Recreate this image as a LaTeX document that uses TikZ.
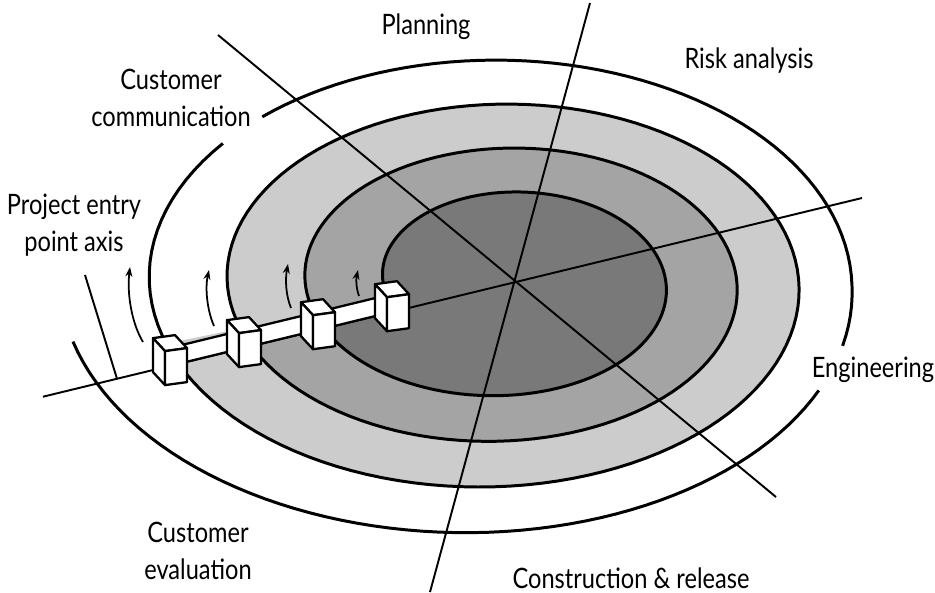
\documentclass[tikz,border=0pt]{standalone}
\usepackage{fontspec}
\setmainfont{Lato}[FakeStretch=0.84]
\usetikzlibrary{arrows.meta}

\definecolor{ringlight}{RGB}{204,204,204}
\definecolor{ringmid}{RGB}{164,164,164}
\definecolor{ringdark}{RGB}{121,121,121}

\tikzset{
  declare function={
    spx(\s)=473.3+16.95*\s-2.25*\s*\s-(401.8-60.95*\s-2.25*\s*\s+12*max(0,1-2*\s))*cos(360*\s);
    spy(\s)=285.6-0.85*\s+(258.4-44.85*\s)*sin(360*\s);
  },
  spiral/.style={line width=1.7pt,line join=round},
  axisline/.style={line width=1.1pt},
  cubeline/.style={line width=1.3pt,fill=white,line join=round},
  flow/.style={line width=1pt,-{Stealth[length=5.5pt,width=4pt]}},
  phase/.style={font=\fontsize{16}{21}\selectfont,align=center,inner sep=0pt}
}

\begin{document}
\begin{tikzpicture}[x=0.02cm,y=-0.02cm]
    \useasboundingbox (0,0) rectangle (935,592);

    %rings
    \fill[ringlight] plot[domain=1.045:2.045,samples=150,variable=\s] ({spx(\s)},{spy(\s)}) -- cycle;
    \fill[ringmid] plot[domain=2.045:3.045,samples=150,variable=\s] ({spx(\s)},{spy(\s)}) -- cycle;
    \fill[ringdark] plot[domain=3.045:4.045,samples=150,variable=\s] ({spx(\s)},{spy(\s)}) -- cycle;

    %axes
    \coordinate (entryA) at (43,396.7);
    \coordinate (entryB) at (862,198);
    \coordinate (planA) at (590,3);
    \coordinate (planB) at (430,592);
    \coordinate (diagA) at (218,35);
    \coordinate (diagB) at (776,497);
    \draw[axisline] (entryA) -- (entryB);
    \draw[axisline] (planA) -- (planB);
    \draw[axisline] (diagA) -- (diagB);

    %spiral, with gaps for the labels
    \draw[spiral] plot[domain=0.035:0.428,samples=60,variable=\s] ({spx(\s)},{spy(\s)});
    \draw[spiral] plot[domain=0.459:0.862,samples=60,variable=\s] ({spx(\s)},{spy(\s)});
    \draw[spiral] plot[domain=0.888:4.045,samples=400,variable=\s] ({spx(\s)},{spy(\s)});

    %entry point tick
    \coordinate (tickA) at (85,275);
    \coordinate (tickB) at (117,378.7);
    \draw[axisline] (tickA) -- (tickB);

    %boxes on the entry axis
    \foreach \bx/\by [count=\i] in {165/367.1,239/349.1,313/331.2,387/313.2}
        \coordinate (box\i) at (\bx,\by);
    \foreach \i/\j in {1/2,2/3,3/4}
        \filldraw[cubeline] ([shift={(11,-2.7)}]box\i) -- ([shift={(11,-2.7)}]box\j) -- ++(0,-18) -- ([shift={(11,-20.7)}]box\i) -- cycle;
    \foreach \i in {1,...,4} {
        \filldraw[cubeline] ([shift={(0,-16)}]box\i) -- ++(-12,-13) -- ++(22,-3) -- ++(12,13) -- cycle;
        \filldraw[cubeline] ([shift={(0,-16)}]box\i) -- ++(-12,-13) -- ++(0,34) -- ++(12,13) -- cycle;
        \filldraw[cubeline] ([shift={(0,-16)}]box\i) -- ++(22,-3) -- ++(0,34) -- ++(-22,3) -- cycle;
    }

    %direction arrows
    \coordinate (up1) at (143,342);  \coordinate (tip1) at (130,267);
    \coordinate (up2) at (214,326);  \coordinate (tip2) at (209,270);
    \coordinate (up3) at (291,308);  \coordinate (tip3) at (288,264);
    \coordinate (up4) at (359,296);  \coordinate (tip4) at (358,270);
    \draw[flow] (up1) .. controls (131,322) and (127,292) .. (tip1);
    \draw[flow] (up2) .. controls (207,310) and (205,288) .. (tip2);
    \draw[flow] (up3) .. controls (286,296) and (285,280) .. (tip3);
    \draw[flow] (up4) .. controls (356,288) and (356,279) .. (tip4);

    %labels
    \node[phase] (planning) at (426,27) {Planning};
    \node[phase] (risk) at (749,61) {Risk analysis};
    \node[phase] (custcomm) at (171,98) {Customer\\communication};
    \node[phase] (entry) at (74,225) {Project entry\\point axis};
    \node[phase] (engineering) at (873,370) {Engineering};
    \node[phase] (custeval) at (198,551) {Customer\\evaluation};
    \node[phase,anchor=base] (construction) at (631,588) {Construction \& release};
\end{tikzpicture}
\end{document}
